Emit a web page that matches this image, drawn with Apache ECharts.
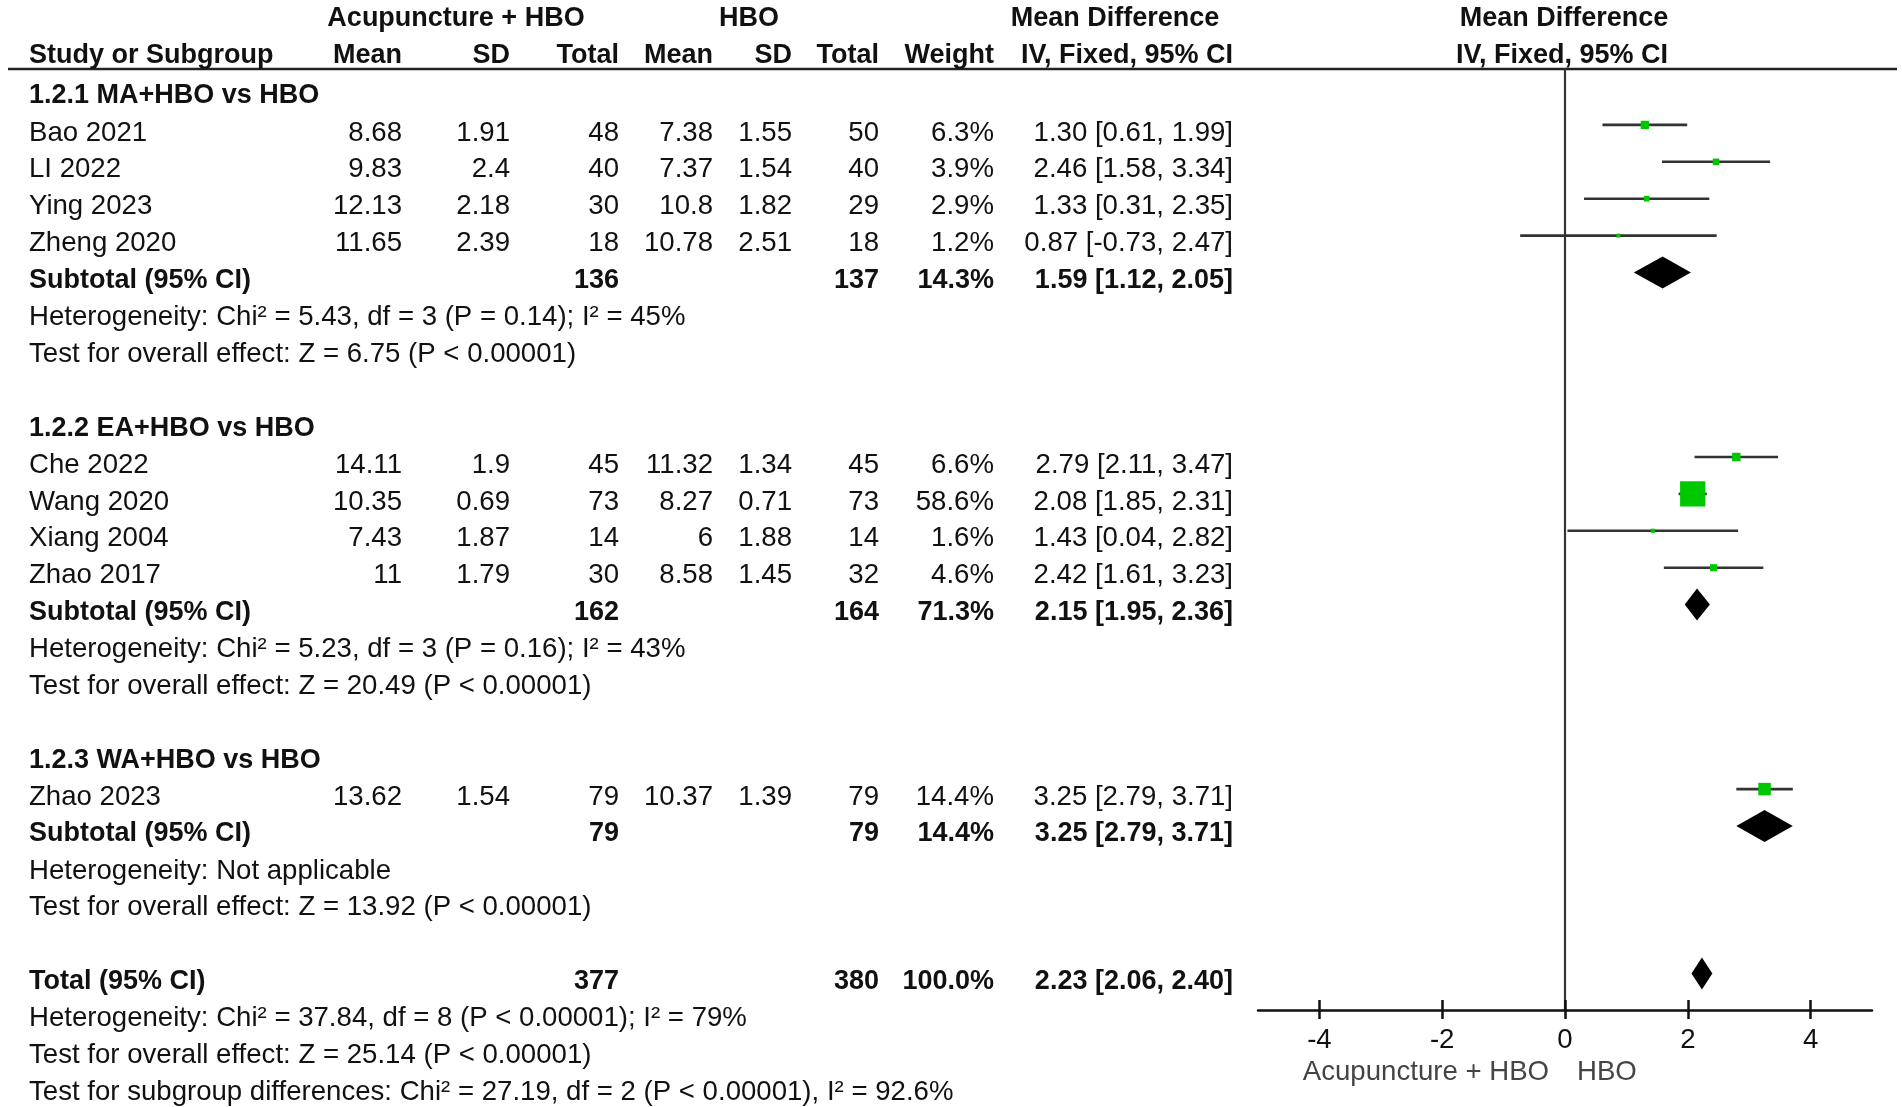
<!DOCTYPE html>
<html>
<head>
<meta charset="utf-8">
<style>
  html, body { margin: 0; padding: 0; background: #fff; }
  #chart { width: 1902px; height: 1107px; }
</style>
<script src="https://cdn.jsdelivr.net/npm/echarts@6/dist/echarts.min.js"></script>
</head>
<body>
<div id="chart"></div>
<script>
// ---------------- DATA ----------------
const studies   = ['Bao 2021', 'LI 2022', 'Ying 2023', 'Zheng 2020', 'Che 2022', 'Wang 2020', 'Xiang 2004', 'Zhao 2017', 'Zhao 2023'];
const studyGroup = [0, 0, 0, 0, 1, 1, 1, 1, 2];
const expMean   = [8.68, 9.83, 12.13, 11.65, 14.11, 10.35, 7.43, 11, 13.62];
const expSD     = [1.91, 2.4, 2.18, 2.39, 1.9, 0.69, 1.87, 1.79, 1.54];
const expTotal  = [48, 40, 30, 18, 45, 73, 14, 30, 79];
const ctlMean   = [7.38, 7.37, 10.8, 10.78, 11.32, 8.27, 6, 8.58, 10.37];
const ctlSD     = [1.55, 1.54, 1.82, 2.51, 1.34, 0.71, 1.88, 1.45, 1.39];
const ctlTotal  = [50, 40, 29, 18, 45, 73, 14, 32, 79];
const weight    = [6.3, 3.9, 2.9, 1.2, 6.6, 58.6, 1.6, 4.6, 14.4];
const md        = [1.30, 2.46, 1.33, 0.87, 2.79, 2.08, 1.43, 2.42, 3.25];
const ciLow     = [0.61, 1.58, 0.31, -0.73, 2.11, 1.85, 0.04, 1.61, 2.79];
const ciHigh    = [1.99, 3.34, 2.35, 2.47, 3.47, 2.31, 2.82, 3.23, 3.71];

const groupNames    = ['1.2.1 MA+HBO vs HBO', '1.2.2 EA+HBO vs HBO', '1.2.3 WA+HBO vs HBO'];
const groupExpTotal = [136, 162, 79];
const groupCtlTotal = [137, 164, 79];
const groupWeight   = [14.3, 71.3, 14.4];
const groupMd       = [1.59, 2.15, 3.25];
const groupLow      = [1.12, 1.95, 2.79];
const groupHigh     = [2.05, 2.36, 3.71];
const groupHet  = ['Heterogeneity: Chi\u00B2 = 5.43, df = 3 (P = 0.14); I\u00B2 = 45%',
                   'Heterogeneity: Chi\u00B2 = 5.23, df = 3 (P = 0.16); I\u00B2 = 43%',
                   'Heterogeneity: Not applicable'];
const groupTest = ['Test for overall effect: Z = 6.75 (P < 0.00001)',
                   'Test for overall effect: Z = 20.49 (P < 0.00001)',
                   'Test for overall effect: Z = 13.92 (P < 0.00001)'];

const totalExp = 377;
const totalCtl = 380;
const totalWeight = 100.0;
const totalMd = 2.23;
const totalLow = 2.06;
const totalHigh = 2.40;
const totalNotes = ['Heterogeneity: Chi\u00B2 = 37.84, df = 8 (P < 0.00001); I\u00B2 = 79%',
                    'Test for overall effect: Z = 25.14 (P < 0.00001)',
                    'Test for subgroup differences: Chi\u00B2 = 27.19, df = 2 (P < 0.00001), I\u00B2 = 92.6%'];

const tickValues = [-4, -2, 0, 2, 4];
const xMin = -5, xMax = 5;
const favoursLeft = 'Acupuncture + HBO';
const favoursRight = 'HBO';

// ---------------- LAYOUT ----------------
const W = 1902, H = 1107;
const ROW0 = 96, ROWH = 36.9, MARK_SHIFT = 8;
const PLOT_L = 1258, PLOT_R = 1872, PLOT_TOP = 69, PLOT_BOTTOM = 1010;
const FS = 27.6, FSB = 27;
const FAM = '"Liberation Sans", Arial, Helvetica, sans-serif';
const TXT = '#111';

const COL = { name: 29, eMean: 402, eSD: 510, eTot: 619, cMean: 713, cSD: 792, cTot: 879, wt: 994, ci: 1233 };
const HEAD1 = (19 - ROW0) / ROWH, HEAD2 = (56 - ROW0) / ROWH;

const f2 = v => v.toFixed(2);
const ciText = (m, l, h) => f2(m) + ' [' + f2(l) + ', ' + f2(h) + ']';

const cells = [];
function cell(x, row, text, align, bold, color) {
  cells.push({ x: x, row: row, text: String(text), align: align || 'right', bold: !!bold, color: color || TXT });
}

// header
cell(456, HEAD1, 'Acupuncture + HBO', 'center', true);
cell(749, HEAD1, 'HBO', 'center', true);
cell(1115, HEAD1, 'Mean Difference', 'center', true);
cell(1564, HEAD1, 'Mean Difference', 'center', true);
cell(COL.name, HEAD2, 'Study or Subgroup', 'left', true);
cell(COL.eMean, HEAD2, 'Mean', 'right', true);
cell(COL.eSD, HEAD2, 'SD', 'right', true);
cell(COL.eTot, HEAD2, 'Total', 'right', true);
cell(COL.cMean, HEAD2, 'Mean', 'right', true);
cell(COL.cSD, HEAD2, 'SD', 'right', true);
cell(COL.cTot, HEAD2, 'Total', 'right', true);
cell(COL.wt, HEAD2, 'Weight', 'right', true);
cell(COL.ci, HEAD2, 'IV, Fixed, 95% CI', 'right', true);
cell(1562, HEAD2, 'IV, Fixed, 95% CI', 'center', true);

const studyMarks = [];
const diamonds = [];
let row = 0;
for (let g = 0; g < groupNames.length; g++) {
  cell(COL.name, row, groupNames[g], 'left', true);
  row++;
  for (let i = 0; i < studies.length; i++) {
    if (studyGroup[i] !== g) continue;
    cell(COL.name, row, studies[i], 'left');
    cell(COL.eMean, row, expMean[i]);
    cell(COL.eSD, row, expSD[i]);
    cell(COL.eTot, row, expTotal[i]);
    cell(COL.cMean, row, ctlMean[i]);
    cell(COL.cSD, row, ctlSD[i]);
    cell(COL.cTot, row, ctlTotal[i]);
    cell(COL.wt, row, weight[i].toFixed(1) + '%');
    cell(COL.ci, row, ciText(md[i], ciLow[i], ciHigh[i]));
    studyMarks.push([md[i], row, ciLow[i], ciHigh[i], weight[i]]);
    row++;
  }
  cell(COL.name, row, 'Subtotal (95% CI)', 'left', true);
  cell(COL.eTot, row, groupExpTotal[g], 'right', true);
  cell(COL.cTot, row, groupCtlTotal[g], 'right', true);
  cell(COL.wt, row, groupWeight[g].toFixed(1) + '%', 'right', true);
  cell(COL.ci, row, ciText(groupMd[g], groupLow[g], groupHigh[g]), 'right', true);
  diamonds.push([groupMd[g], row, groupLow[g], groupHigh[g]]);
  row++;
  cell(COL.name, row, groupHet[g], 'left');
  row++;
  cell(COL.name, row, groupTest[g], 'left');
  row += 2;
}
cell(COL.name, row, 'Total (95% CI)', 'left', true);
cell(COL.eTot, row, totalExp, 'right', true);
cell(COL.cTot, row, totalCtl, 'right', true);
cell(COL.wt, row, totalWeight.toFixed(1) + '%', 'right', true);
cell(COL.ci, row, ciText(totalMd, totalLow, totalHigh), 'right', true);
diamonds.push([totalMd, row, totalLow, totalHigh]);
row++;
for (let k = 0; k < totalNotes.length; k++) { cell(COL.name, row, totalNotes[k], 'left'); row++; }

// footer labels (under axis)
const footRow = (1072 - ROW0) / ROWH;
cell(1549, footRow, favoursLeft, 'right', false, '#444');
cell(1577, footRow, favoursRight, 'left', false, '#444');

// ---------------- CHART ----------------
const chart = echarts.init(document.getElementById('chart'), null, { renderer: 'canvas' });

const y0min = (0 - ROW0) / ROWH, y0max = (H - ROW0) / ROWH;
const y1min = (PLOT_TOP - (ROW0 - MARK_SHIFT)) / ROWH, y1max = (PLOT_BOTTOM - (ROW0 - MARK_SHIFT)) / ROWH;

const option = {
  animation: false,
  backgroundColor: '#fff',
  grid: [
    { left: 0, top: 0, width: W, height: H },
    { left: PLOT_L, top: PLOT_TOP, width: PLOT_R - PLOT_L, height: PLOT_BOTTOM - PLOT_TOP },
    { left: PLOT_L, top: PLOT_BOTTOM, width: PLOT_R - PLOT_L, height: 12 }
  ],
  xAxis: [
    { gridIndex: 0, type: 'value', min: 0, max: W, show: false },
    { gridIndex: 1, type: 'value', min: xMin, max: xMax, position: 'bottom',
      splitLine: { show: false },
      axisLine: { show: true, onZero: false, lineStyle: { color: '#111', width: 2.5 } },
      axisTick: { show: true, inside: true, length: 10, customValues: tickValues, lineStyle: { color: '#111', width: 2.5 } },
      axisLabel: { show: true, customValues: tickValues, margin: 16, color: '#111', fontSize: FS, fontFamily: FAM } },
    { gridIndex: 2, type: 'value', min: xMin, max: xMax, position: 'top',
      splitLine: { show: false },
      axisLine: { show: false, onZero: false },
      axisTick: { show: true, inside: true, length: 9, customValues: tickValues, lineStyle: { color: '#111', width: 2.5 } },
      axisLabel: { show: false } }
  ],
  yAxis: [
    { gridIndex: 0, type: 'value', min: y0min, max: y0max, inverse: true, show: false },
    { gridIndex: 1, type: 'value', min: y1min, max: y1max, inverse: true,
      splitLine: { show: false }, axisTick: { show: false }, axisLabel: { show: false },
      axisLine: { show: true, onZero: true, lineStyle: { color: '#333', width: 2.2 } } },
    { gridIndex: 2, type: 'value', min: 0, max: 1, show: false }
  ],
  graphic: [
    { type: 'line', shape: { x1: 8, y1: PLOT_TOP, x2: 1897, y2: PLOT_TOP }, style: { stroke: '#222', lineWidth: 2.5 } }
  ],
  series: [
    {
      type: 'custom', name: 'table', xAxisIndex: 0, yAxisIndex: 0,
      data: cells.map(c => [c.x, c.row]),
      renderItem: function (params, api) {
        const c = cells[params.dataIndex];
        const p = api.coord([api.value(0), api.value(1)]);
        return {
          type: 'text', x: p[0], y: p[1],
          style: {
            text: c.text, fill: c.color,
            font: (c.bold ? 'bold ' + FSB : FS) + 'px ' + FAM,
            align: c.align, verticalAlign: 'middle'
          }
        };
      }
    },
    {
      type: 'custom', name: 'studies', xAxisIndex: 1, yAxisIndex: 1,
      data: studyMarks,
      renderItem: function (params, api) {
        const m = api.value(0), r = api.value(1), lo = api.value(2), hi = api.value(3), w = api.value(4);
        const pl = api.coord([lo, r]), ph = api.coord([hi, r]), pm = api.coord([m, r]);
        const s = Math.max(4, 3.3 * Math.sqrt(w));
        return {
          type: 'group',
          children: [
            { type: 'line', shape: { x1: pl[0], y1: pl[1], x2: ph[0], y2: ph[1] }, style: { stroke: '#333', lineWidth: 2.6 } },
            { type: 'rect', shape: { x: pm[0] - s / 2, y: pm[1] - s / 2, width: s, height: s }, style: { fill: '#00C800' } }
          ]
        };
      }
    },
    {
      type: 'custom', name: 'diamonds', xAxisIndex: 1, yAxisIndex: 1,
      data: diamonds,
      renderItem: function (params, api) {
        const m = api.value(0), r = api.value(1), lo = api.value(2), hi = api.value(3);
        const pl = api.coord([lo, r]), ph = api.coord([hi, r]), pm = api.coord([m, r]);
        const hh = 16;
        return {
          type: 'polygon',
          shape: { points: [[pl[0], pl[1]], [pm[0], pm[1] - hh], [ph[0], ph[1]], [pm[0], pm[1] + hh]] },
          style: { fill: '#000' }
        };
      }
    }
  ]
};
chart.setOption(option);
</script>
</body>
</html>
